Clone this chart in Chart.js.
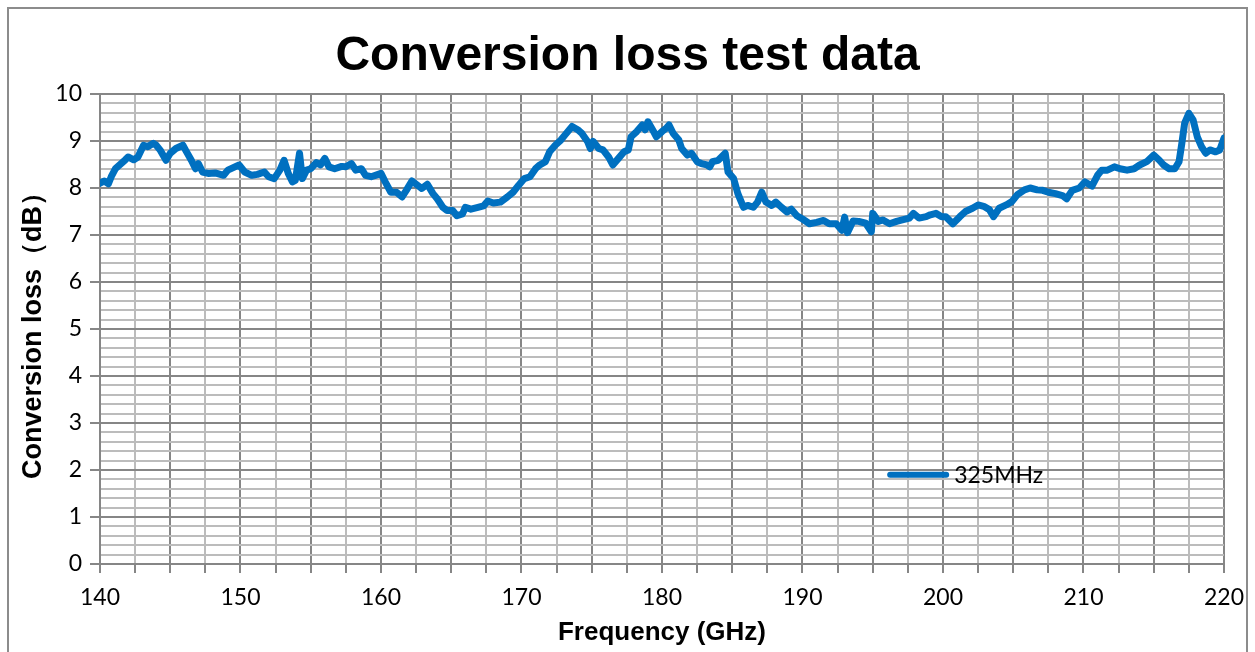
<!DOCTYPE html>
<html>
<head>
<meta charset="utf-8">
<title>Conversion loss test data</title>
<script src="https://cdn.jsdelivr.net/npm/chart.js@4.4.3/dist/chart.umd.min.js"></script>
<style>
  html, body { margin: 0; padding: 0; background: #fff; }
  canvas { display: block; }
</style>
</head>
<body>
<canvas id="loss-chart" width="1255" height="652"></canvas>
<script>
/**
 * Conversion loss vs frequency, one measured trace (325MHz IF).
 * Values read off the original plot.
 */
const chartTitle = "Conversion loss test data";
const xTitle = "Frequency (GHz)";
const yTitle = "Conversion loss（dB）";
const seriesLabel = "325MHz";

// frequency in GHz
const freq = [
  140.0, 140.3, 140.6, 140.8, 141.1, 141.4, 141.8, 142.0, 142.4, 142.7,
  143.1, 143.4, 143.8, 144.0, 144.3, 144.7, 145.0, 145.4, 145.9, 146.1,
  146.5, 146.8, 147.0, 147.3, 147.7, 148.2, 148.8, 149.1, 149.6, 149.9,
  150.3, 150.8, 151.2, 151.7, 152.0, 152.4, 152.8, 153.1, 153.4, 153.7,
  153.9, 154.2, 154.4, 154.7, 155.0, 155.4, 155.7, 156.0, 156.3, 156.7,
  157.2, 157.5, 157.9, 158.2, 158.6, 158.9, 159.3, 159.6, 160.0, 160.3,
  160.7, 161.1, 161.5, 161.8, 162.2, 162.6, 162.9, 163.3, 163.7, 164.0,
  164.4, 164.7, 165.1, 165.4, 165.8, 166.0, 166.4, 166.9, 167.3, 167.6,
  168.0, 168.5, 169.0, 169.4, 169.8, 170.2, 170.6, 171.0, 171.3, 171.7,
  172.0, 172.4, 172.8, 173.1, 173.6, 174.0, 174.3, 174.7, 174.9, 175.1,
  175.5, 175.8, 176.2, 176.5, 176.9, 177.3, 177.6, 177.8, 178.2, 178.6,
  178.8, 179.0, 179.4, 179.6, 180.0, 180.3, 180.5, 180.8, 181.2, 181.4,
  181.8, 182.1, 182.5, 182.8, 183.2, 183.4, 183.6, 184.0, 184.5, 184.7,
  185.1, 185.4, 185.8, 186.1, 186.5, 186.8, 187.1, 187.4, 187.8, 188.1,
  188.5, 188.9, 189.2, 189.6, 190.0, 190.5, 191.0, 191.5, 191.9, 192.4,
  192.8, 193.0, 193.2, 193.6, 194.0, 194.5, 194.9, 195.0, 195.4, 195.7,
  196.2, 196.7, 197.1, 197.6, 197.9, 198.3, 198.8, 199.1, 199.5, 199.9,
  200.2, 200.7, 201.2, 201.6, 202.1, 202.5, 202.9, 203.3, 203.6, 204.0,
  204.5, 204.9, 205.3, 205.8, 206.2, 206.7, 207.1, 207.5, 208.0, 208.5,
  208.8, 209.2, 209.7, 210.1, 210.6, 211.0, 211.3, 211.7, 212.2, 212.6,
  213.1, 213.6, 214.0, 214.5, 215.0, 215.4, 215.7, 216.1, 216.5, 216.8,
  217.0, 217.2, 217.5, 217.8, 218.1, 218.4, 218.7, 219.0, 219.4, 219.7,
  220.0
];

// conversion loss in dB
const loss = [
  8.10, 8.15, 8.09, 8.24, 8.41, 8.49, 8.60, 8.66, 8.60, 8.66,
  8.91, 8.88, 8.95, 8.91, 8.80, 8.59, 8.74, 8.84, 8.91, 8.80,
  8.59, 8.41, 8.52, 8.34, 8.31, 8.32, 8.27, 8.38, 8.45, 8.49,
  8.34, 8.27, 8.29, 8.34, 8.24, 8.20, 8.38, 8.59, 8.31, 8.13,
  8.16, 8.74, 8.20, 8.38, 8.41, 8.54, 8.49, 8.63, 8.45, 8.41,
  8.46, 8.45, 8.52, 8.38, 8.41, 8.27, 8.24, 8.27, 8.31, 8.13,
  7.91, 7.91, 7.81, 7.95, 8.15, 8.06, 7.99, 8.08, 7.88, 7.77,
  7.59, 7.52, 7.52, 7.41, 7.45, 7.59, 7.55, 7.59, 7.62, 7.72,
  7.68, 7.70, 7.81, 7.91, 8.06, 8.20, 8.24, 8.41, 8.49, 8.56,
  8.77, 8.91, 9.02, 9.13, 9.31, 9.24, 9.16, 8.99, 8.84, 8.99,
  8.84, 8.81, 8.66, 8.49, 8.63, 8.77, 8.81, 9.09, 9.20, 9.34,
  9.24, 9.41, 9.20, 9.09, 9.20, 9.27, 9.34, 9.16, 9.02, 8.84,
  8.70, 8.74, 8.56, 8.52, 8.49, 8.45, 8.56, 8.59, 8.74, 8.34,
  8.20, 7.88, 7.59, 7.63, 7.59, 7.70, 7.91, 7.70, 7.63, 7.70,
  7.59, 7.49, 7.55, 7.41, 7.34, 7.24, 7.27, 7.31, 7.24, 7.24,
  7.10, 7.38, 7.05, 7.30, 7.29, 7.25, 7.07, 7.46, 7.29, 7.32,
  7.24, 7.29, 7.32, 7.36, 7.46, 7.36, 7.39, 7.43, 7.46, 7.39,
  7.39, 7.24, 7.39, 7.50, 7.57, 7.64, 7.61, 7.54, 7.39, 7.57,
  7.64, 7.71, 7.86, 7.96, 8.00, 7.96, 7.95, 7.91, 7.88, 7.84,
  7.77, 7.95, 8.00, 8.13, 8.04, 8.27, 8.38, 8.38, 8.45, 8.41,
  8.38, 8.41, 8.49, 8.56, 8.70, 8.59, 8.49, 8.41, 8.41, 8.56,
  8.95, 9.38, 9.59, 9.45, 9.09, 8.88, 8.74, 8.81, 8.77, 8.81,
  9.06
];

const lineColor = "#0070C0";
const majorGrid = "#868686";
const minorGrid = "#bcbcbc";
const tickFont = { family: "Lato", size: 23 };
const boldFont = (size) => ({ family: "Liberation Sans", size, weight: "bold" });

const isWhole = (v, step) => Math.abs(v / step - Math.round(v / step)) < 1e-6;

// grey outline around the whole figure, plus the title centred on it
const framePlugin = {
  id: "frame",
  beforeDraw(chart) {
    const { ctx } = chart;
    ctx.save();
    ctx.fillStyle = "#fff";
    ctx.fillRect(0, 0, chart.width, chart.height);
    ctx.strokeStyle = "#8c8c8c";
    ctx.lineWidth = 2;
    ctx.strokeRect(8, 8, chart.width - 16, chart.height + 40);
    ctx.fillStyle = "#000";
    ctx.font = "bold 48px 'Liberation Sans'";
    ctx.textAlign = "center";
    ctx.textBaseline = "middle";
    ctx.fillText(chartTitle, chart.width / 2, 57);
    ctx.restore();
  },
};

// legend drawn inside the plot area, lower right
const insideLegend = {
  id: "insideLegend",
  afterDraw(chart) {
    const { ctx, chartArea: a } = chart;
    const ds = chart.data.datasets[0];
    const x0 = a.left + a.width * 0.703;
    const y0 = a.top + a.height * 0.81;
    ctx.save();
    ctx.strokeStyle = ds.borderColor;
    ctx.lineWidth = 6;
    ctx.lineCap = "round";
    ctx.beginPath();
    ctx.moveTo(x0, y0);
    ctx.lineTo(x0 + 56, y0);
    ctx.stroke();
    ctx.fillStyle = "#000";
    ctx.font = "23px Lato";
    ctx.textBaseline = "middle";
    ctx.fillText(ds.label, x0 + 64, y0 + 1);
    ctx.restore();
  },
};

const ctx = document.getElementById("loss-chart").getContext("2d");
new Chart(ctx, {
  type: "line",
  data: {
    datasets: [
      {
        label: seriesLabel,
        data: freq.map((f, i) => ({ x: f, y: loss[i] })),
        borderColor: lineColor,
        backgroundColor: lineColor,
        borderWidth: 7,
        borderJoinStyle: "round",
        borderCapStyle: "round",
        pointRadius: 0,
        tension: 0,
      },
    ],
  },
  options: {
    responsive: false,
    animation: false,
    layout: { padding: { left: 0, right: 25, top: 94, bottom: 0 } },
    plugins: {
      legend: { display: false },
      tooltip: { enabled: false },
      title: { display: false },
    },
    scales: {
      x: {
        type: "linear",
        min: 140,
        max: 220,
        ticks: {
          stepSize: 2.5,
          autoSkip: false,
          maxRotation: 0,
          color: "#000",
          font: tickFont,
          padding: 11,
          callback: (v) => (isWhole(v, 10) ? v : ""),
        },
        grid: {
          color: (c) => (isWhole(c.tick.value, 5) ? majorGrid : minorGrid),
          tickColor: majorGrid,
          lineWidth: 2,
          tickLength: 9,
        },
        border: { color: majorGrid, width: 2 },
        title: {
          display: true,
          text: xTitle,
          color: "#000",
          font: boldFont(26),
          padding: { top: 0, bottom: 4 },
        },
        afterFit: (s) => { s.height = 88; },
      },
      y: {
        min: 0,
        max: 10,
        ticks: {
          stepSize: 0.2,
          autoSkip: false,
          color: "#000",
          font: tickFont,
          padding: 8,
          callback: (v) => (isWhole(v, 1) ? Math.round(v) : ""),
        },
        grid: {
          color: (c) => (isWhole(c.tick.value, 1) ? majorGrid : minorGrid),
          tickColor: (c) => (isWhole(c.tick.value, 1) ? majorGrid : "rgba(0,0,0,0)"),
          lineWidth: 2,
          tickLength: 10,
        },
        border: { color: majorGrid, width: 2 },
        title: {
          display: true,
          text: yTitle,
          color: "#000",
          font: boldFont(27),
          padding: { top: 17, bottom: 0 },
        },
        afterFit: (s) => { s.width = 100; },
      },
    },
  },
  plugins: [framePlugin, insideLegend],
});
</script>
</body>
</html>
